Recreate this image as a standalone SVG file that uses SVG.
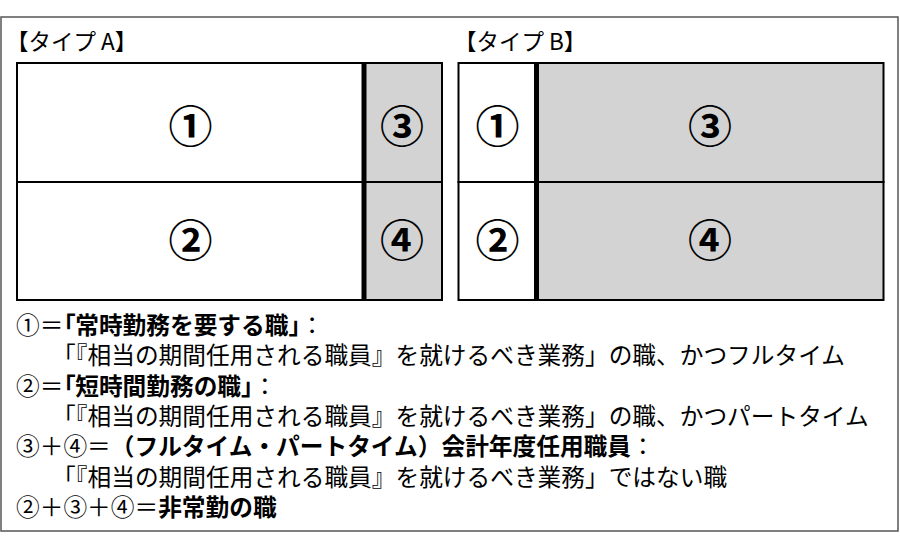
<svg xmlns="http://www.w3.org/2000/svg" width="900" height="546" viewBox="0 0 900 546">
<style>
.t{font-family:"Noto Sans CJK JP","Noto Sans CJK SC",sans-serif;fill:#000}
.w{fill:#fff;stroke:#000;stroke-width:2}
.g{fill:#d3d3d3;stroke:#000;stroke-width:2}
.div{stroke:#000;stroke-width:5}
.num{font-size:44px;font-weight:bold;text-anchor:middle}
.ttl{font-size:22.5px}
.ln{font-size:23.7px}
.b{font-weight:bold}
.p{font-feature-settings:"palt"}
</style>
<rect x="1" y="17" width="897" height="514" fill="#fff" stroke="#555" stroke-width="1.5"/>
<g id="typeA">
  <text class="t ttl" x="6" y="50">【タイプ A】</text>
  <g id="A1"><rect class="w" x="17" y="63" width="347" height="119"/><text class="t num" x="190.5" y="142.5">①</text></g>
  <g id="A2"><rect class="w" x="17" y="182" width="347" height="118"/><text class="t num" x="190.5" y="256.5">②</text></g>
  <g id="A3"><rect class="g" x="364" y="63" width="78" height="119"/><text class="t num" x="402" y="142.5">③</text></g>
  <g id="A4"><rect class="g" x="364" y="182" width="78" height="118"/><text class="t num" x="402" y="256.5">④</text></g>
  <line class="div" x1="364" y1="62" x2="364" y2="301"/>
</g>
<g id="typeB">
  <text class="t ttl" x="454" y="50">【タイプ B】</text>
  <g id="B1"><rect class="w" x="458.5" y="63" width="78" height="119"/><text class="t num" x="497.5" y="142.5">①</text></g>
  <g id="B2"><rect class="w" x="458.5" y="182" width="78" height="118"/><text class="t num" x="497.5" y="256.5">②</text></g>
  <g id="B3"><rect class="g" x="536.5" y="63" width="347" height="119"/><text class="t num" x="710" y="142.5">③</text></g>
  <g id="B4"><rect class="g" x="536.5" y="182" width="347" height="118"/><text class="t num" x="710" y="256.5">④</text></g>
  <line class="div" x1="536.5" y1="62" x2="536.5" y2="301"/>
</g>
<g id="legend" class="t ln">
  <text x="16" y="334">①＝<tspan class="b p">「</tspan><tspan class="b">常時勤務を要する職」</tspan>：</text>
  <text x="52" y="364.3">「『相当の期間任用される職員』を就けるべき業務」の職、かつフルタイム</text>
  <text x="16" y="394.6">②＝<tspan class="b p">「</tspan><tspan class="b">短時間勤務の職」</tspan>：</text>
  <text x="52" y="424.9">「『相当の期間任用される職員』を就けるべき業務」の職、かつパートタイム</text>
  <text x="16" y="455.2">③＋④＝<tspan class="b">（フルタイム・パートタイム）会計年度任用職員</tspan>：</text>
  <text x="52" y="485.5">「『相当の期間任用される職員』を就けるべき業務」ではない職</text>
  <text x="16" y="515.8">②＋③＋④＝<tspan class="b">非常勤の職</tspan></text>
</g>
</svg>
